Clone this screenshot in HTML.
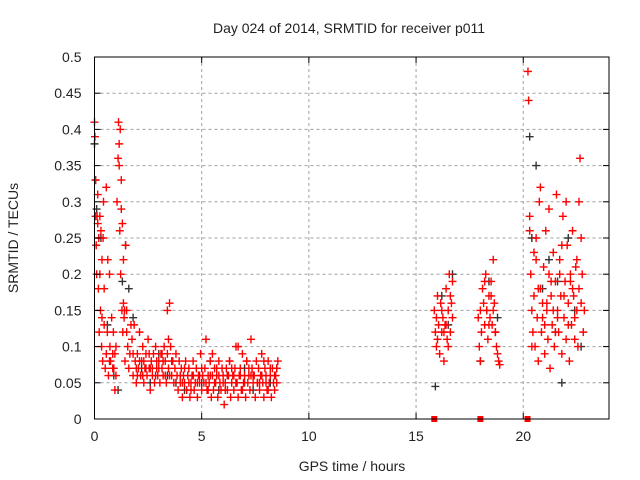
<!DOCTYPE html>
<html><head><meta charset="utf-8"><style>
body{margin:0;background:#fff;}
svg{display:block;font-family:"Liberation Sans",sans-serif;}
</style></head><body>
<svg id="chart" width="640" height="480" xmlns="http://www.w3.org/2000/svg">
<rect width="640" height="480" fill="#fff"/>
<g id="grid"></g>
<g id="marks"></g>
<g id="axes"></g>
<text x="349" y="33" font-size="14" text-anchor="middle" fill="#222">Day 024 of 2014, SRMTID for receiver p011</text>
<text x="352" y="471" font-size="14" text-anchor="middle" fill="#222">GPS time / hours</text>
<text transform="translate(18,238) rotate(-90)" font-size="14" text-anchor="middle" fill="#222">SRMTID / TECUs</text>
</svg>
<script>
const xTicks=[0,5,10,15,20];
const yTicks=[0,0.05,0.1,0.15,0.2,0.25,0.3,0.35,0.4,0.45,0.5];
const yTickLabels=["0","0.05","0.1","0.15","0.2","0.25","0.3","0.35","0.4","0.45","0.5"];
// red series, [hour, value] pairs per segment
const redEarly=[[0,0.41],[0.02,0.39],[0.05,0.33],[0.08,0.24],[0.1,0.2],[0.12,0.28],[0.15,0.31],[0.18,0.18],[0.2,0.25],[0.22,0.12],[0.25,0.28],[0.28,0.15],[0.3,0.26],[0.33,0.1],[0.35,0.22],[0.38,0.08],[0.4,0.25],[0.42,0.3],[0.45,0.18],[0.5,0.07],[0.55,0.32],[0.6,0.12],[0.62,0.22],[0.65,0.06],[0.7,0.2],[0.72,0.1],[0.75,0.08],[0.8,0.14],[0.85,0.09],[0.88,0.12],[0.9,0.07],[0.95,0.04],[1.0,0.1],[1.05,0.3],[1.1,0.36],[1.12,0.41],[1.15,0.38],[1.18,0.26],[1.2,0.4],[1.22,0.2],[1.25,0.33],[1.28,0.15],[1.3,0.27],[1.32,0.12],[1.35,0.22],[1.38,0.14],[1.4,0.15],[1.42,0.08],[1.45,0.24],[1.5,0.12],[1.55,0.1],[1.6,0.07],[1.65,0.09],[1.7,0.13],[0.15,0.27],[0.25,0.2],[0.45,0.13],[0.55,0.09],[0.7,0.08],[0.95,0.09],[1.15,0.35],[1.25,0.29],[1.35,0.16],[1.5,0.15],[0.05,0.28],[0.35,0.14],[0.85,0.07],[1.0,0.06]];
const redMid=[[1.75,0.11],[1.8,0.06],[1.85,0.13],[1.9,0.08],[1.95,0.05],[2.0,0.09],[2.05,0.07],[2.1,0.12],[2.15,0.06],[2.2,0.08],[2.25,0.1],[2.3,0.05],[2.35,0.07],[2.4,0.09],[2.45,0.06],[2.5,0.11],[2.55,0.07],[2.6,0.04],[2.65,0.08],[2.7,0.06],[2.75,0.09],[2.8,0.05],[2.85,0.1],[2.9,0.07],[2.95,0.06],[3.0,0.08],[3.05,0.05],[3.1,0.09],[3.15,0.07],[3.2,0.06],[3.25,0.1],[3.3,0.08],[3.35,0.05],[3.4,0.09],[3.45,0.11],[3.5,0.16],[3.55,0.1],[3.6,0.06],[3.65,0.08],[3.7,0.05],[3.75,0.07],[3.8,0.09],[1.8,0.09],[1.95,0.07],[2.1,0.08],[2.25,0.06],[2.4,0.07],[2.55,0.09],[2.7,0.07],[2.85,0.06],[3.0,0.07],[3.15,0.09],[3.3,0.06],[3.45,0.07],[3.6,0.08],[2.0,0.06],[2.3,0.08],[2.6,0.07],[2.9,0.08],[3.2,0.08],[3.5,0.06],[3.4,0.15]];
const redLate=[[3.85,0.06],[3.9,0.04],[3.95,0.08],[4.0,0.05],[4.05,0.07],[4.1,0.03],[4.15,0.06],[4.2,0.05],[4.25,0.08],[4.3,0.04],[4.35,0.06],[4.4,0.07],[4.45,0.03],[4.5,0.05],[4.55,0.06],[4.6,0.08],[4.65,0.04],[4.7,0.05],[4.75,0.07],[4.8,0.03],[4.85,0.06],[4.9,0.05],[4.95,0.09],[5.0,0.04],[5.05,0.06],[5.1,0.05],[5.15,0.07],[5.2,0.11],[5.25,0.04],[5.3,0.06],[5.35,0.05],[5.4,0.08],[5.45,0.03],[5.5,0.06],[5.55,0.04],[5.6,0.07],[5.65,0.05],[5.7,0.06],[5.75,0.03],[5.8,0.08],[5.85,0.05],[5.9,0.04],[5.95,0.07],[6.0,0.06],[6.05,0.02],[6.1,0.05],[6.15,0.07],[6.2,0.04],[6.25,0.06],[6.3,0.08],[6.35,0.03],[6.4,0.05],[6.45,0.06],[6.5,0.04],[6.55,0.07],[6.6,0.1],[6.65,0.05],[6.7,0.03],[6.75,0.06],[6.8,0.07],[6.85,0.04],[6.9,0.09],[6.95,0.05],[7.0,0.06],[7.05,0.03],[7.1,0.08],[7.15,0.05],[7.2,0.06],[7.25,0.04],[7.3,0.11],[7.35,0.07],[7.4,0.05],[7.45,0.06],[7.5,0.03],[7.55,0.08],[7.6,0.05],[7.65,0.07],[7.7,0.04],[7.75,0.06],[7.8,0.09],[7.85,0.05],[7.9,0.03],[7.95,0.07],[8.0,0.06],[8.05,0.04],[8.1,0.08],[8.15,0.05],[8.2,0.06],[8.25,0.03],[8.3,0.07],[8.35,0.05],[8.4,0.04],[8.45,0.06],[8.5,0.05],[8.55,0.08],
[4.0,0.06],[4.2,0.07],[4.4,0.05],[4.6,0.06],[4.8,0.05],[5.0,0.07],[5.2,0.05],[5.4,0.06],[5.6,0.05],[5.8,0.06],[6.0,0.05],[6.2,0.06],[6.4,0.07],[6.6,0.05],[6.8,0.06],[7.0,0.05],[7.2,0.07],[7.4,0.06],[7.6,0.05],[7.8,0.06],[8.0,0.05],[8.2,0.07],[8.4,0.06],[4.1,0.05],[4.5,0.04],[4.9,0.06],[5.3,0.04],[5.7,0.07],[6.1,0.04],[6.5,0.06],[6.9,0.04],[7.3,0.06],[7.7,0.05],[8.1,0.04],[8.5,0.07],[5.5,0.09],[6.3,0.08],[7.1,0.08],[7.9,0.08],[6.7,0.1]];
const redA=[[15.85,0.15],[15.9,0.12],[15.95,0.1],[16.0,0.17],[16.05,0.13],[16.1,0.09],[16.15,0.16],[16.2,0.12],[16.25,0.14],[16.3,0.08],[16.35,0.13],[16.4,0.18],[16.45,0.11],[16.5,0.15],[16.55,0.2],[16.6,0.12],[16.65,0.16],[16.7,0.14],[16.0,0.11],[16.2,0.15],[16.4,0.13],[16.6,0.17],[15.95,0.14],[16.3,0.12],[16.5,0.1],[16.7,0.19]];
const redB=[[17.9,0.14],[17.95,0.1],[18.0,0.15],[18.05,0.12],[18.1,0.18],[18.15,0.16],[18.2,0.13],[18.25,0.2],[18.3,0.15],[18.35,0.11],[18.4,0.17],[18.45,0.14],[18.5,0.19],[18.55,0.13],[18.6,0.22],[18.65,0.16],[18.7,0.12],[18.75,0.1],[18.8,0.09],[18.85,0.08],[18.9,0.075],[18.3,0.15],[18.5,0.17],[18.7,0.12],[18.0,0.08],[18.2,0.19],[18.4,0.13],[18.6,0.15]];
const redC=[[20.22,0.48],[20.25,0.44],[20.3,0.26],[20.35,0.2],[20.4,0.15],[20.45,0.12],[20.5,0.17],[20.55,0.1],[20.6,0.22],[20.65,0.14],[20.7,0.08],[20.75,0.3],[20.8,0.18],[20.85,0.12],[20.9,0.16],[20.95,0.21],[21.0,0.09],[21.05,0.26],[21.1,0.15],[21.15,0.11],[21.2,0.2],[21.25,0.07],[21.3,0.17],[21.35,0.13],[21.4,0.23],[21.45,0.1],[21.5,0.19],[21.55,0.31],[21.6,0.15],[21.65,0.12],[21.7,0.22],[21.75,0.17],[21.8,0.09],[21.85,0.28],[21.9,0.14],[21.95,0.19],[22.0,0.11],[22.05,0.24],[22.1,0.16],[22.15,0.08],[22.2,0.2],[22.25,0.13],[22.3,0.26],[22.35,0.17],[22.4,0.11],[22.45,0.21],[22.5,0.15],[22.55,0.1],[22.6,0.3],[22.65,0.36],[22.7,0.25],[22.75,0.2],[22.8,0.12],[22.85,0.15],
[20.3,0.28],[20.5,0.23],[20.7,0.18],[20.9,0.14],[21.1,0.16],[21.3,0.19],[21.5,0.12],[21.7,0.2],[21.9,0.17],[22.1,0.13],[22.3,0.18],[22.5,0.22],[22.7,0.16],[20.6,0.25],[21.0,0.13],[21.4,0.15],[21.8,0.24],[22.2,0.19],[22.6,0.18],[20.8,0.32],[21.2,0.29],[21.6,0.14],[22.4,0.14],[20.4,0.1],[22.0,0.3]];
const blackPts=[[0,0.38],[0.05,0.33],[0.1,0.29],[0.3,0.25],[0.6,0.13],[0.9,0.06],[1.1,0.04],[1.3,0.19],[1.45,0.24],[1.6,0.18],[1.8,0.14],[2.2,0.07],[2.6,0.05],[3.0,0.09],[3.4,0.06],[3.8,0.05],[4.2,0.04],[4.6,0.06],[5.0,0.05],[5.4,0.08],[5.8,0.04],[6.2,0.06],[6.6,0.05],[7.0,0.07],[7.4,0.04],[7.8,0.06],[8.2,0.05],[8.5,0.07],[15.9,0.045],[16.2,0.17],[16.5,0.13],[16.7,0.2],[18.0,0.08],[18.4,0.19],[18.8,0.14],[20.3,0.39],[20.6,0.35],[20.9,0.18],[21.2,0.22],[21.5,0.12],[21.8,0.05],[22.1,0.25],[22.4,0.15],[22.7,0.1],[20.4,0.25],[21.6,0.19]];
const zeroT=[15.85,18.0,20.2];

const L=94.5,R=609,T=57,B=419;
const xS=t=>L+t*(R-L)/24;
const yS=v=>B-v*(B-T)/0.5;
const NS="http://www.w3.org/2000/svg";
function mk(tag,attrs,parent){const e=document.createElementNS(NS,tag);for(const k in attrs)e.setAttribute(k,attrs[k]);parent.appendChild(e);return e;}
const grid=document.getElementById('grid'),axes=document.getElementById('axes'),marks=document.getElementById('marks');
xTicks.forEach(t=>{
  const x=xS(t);
  if(t>0){const g=mk('line',{x1:x,x2:x,y1:T,y2:B,stroke:'#a0a0a0','stroke-dasharray':'3,3'},grid);
  
  }
  mk('line',{x1:x,x2:x,y1:B,y2:B-6,stroke:'#000'},axes);
  mk('line',{x1:x,x2:x,y1:T,y2:T+6,stroke:'#000'},axes);
  const lb=mk('text',{x:x,y:B+22,'font-size':14,'text-anchor':'middle',fill:'#222'},axes);
  lb.textContent=t;
  
  
});
yTicks.forEach((v,i)=>{
  const y=yS(v);
  if(i>0&&i<yTicks.length-1){const g=mk('line',{x1:L,x2:R,y1:y,y2:y,stroke:'#a0a0a0','stroke-dasharray':'3,3'},grid);
  
  }
  mk('line',{x1:L,x2:L+6,y1:y,y2:y,stroke:'#000'},axes);
  mk('line',{x1:R,x2:R-6,y1:y,y2:y,stroke:'#000'},axes);
  const lb=mk('text',{x:L-13,y:y+5,'font-size':14,'text-anchor':'end',fill:'#222'},axes);
  lb.textContent=yTickLabels[i];
  
  
});
const fr=mk('rect',{x:L,y:T,width:R-L,height:B-T,fill:'none',stroke:'#000','stroke-width':1},axes);


function plus(t,v,col,name){
  const x=xS(t),y=yS(v);
  const p=mk('path',{d:`M${x-4},${y}h8M${x},${y-4}v8`,stroke:col,'stroke-width':1.4,fill:'none'},marks);
  
  
}
blackPts.forEach(p=>plus(p[0],p[1],'#333','point-black'));
[redEarly,redMid,redLate,redA,redB,redC].forEach(seg=>seg.forEach(p=>plus(p[0],p[1],'#ff0000','point-red')));
zeroT.forEach(t=>{
  const r=mk('rect',{x:xS(t)-3,y:B-3,width:6,height:6,fill:'#ff0000'},marks);
  
  
});
</script>
</body></html>
